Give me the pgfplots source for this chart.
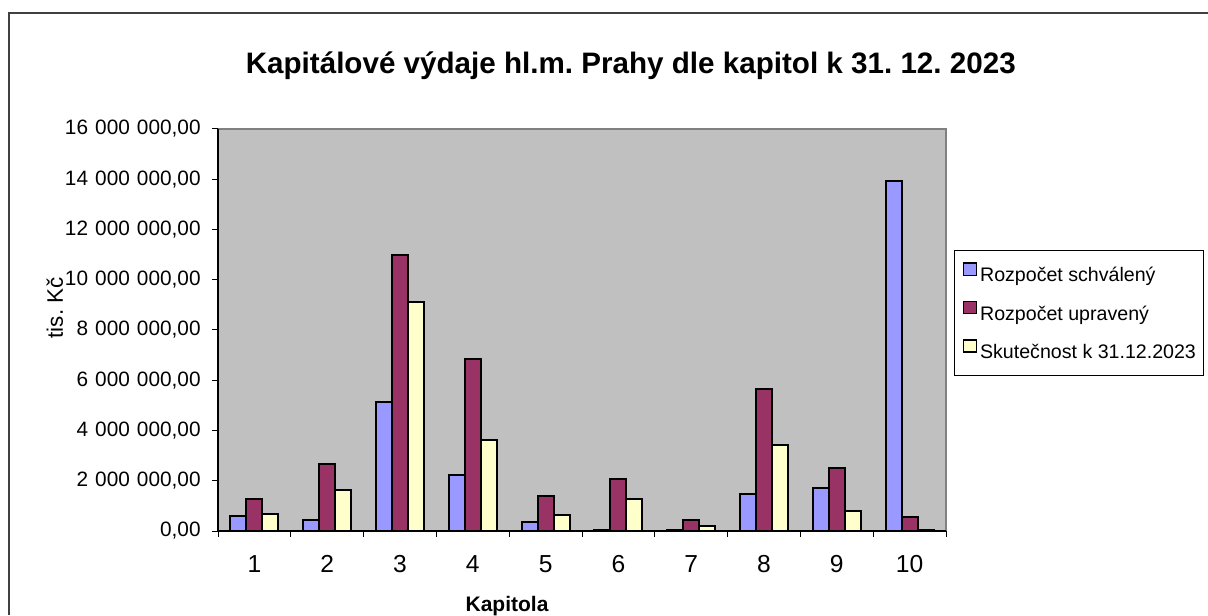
\documentclass[border=0pt]{standalone}
\usepackage{pgfplots}
\pgfplotsset{compat=1.18}
\usepackage{fontspec}
\setmainfont{Liberation Sans}
\frenchspacing
\definecolor{cblue}{HTML}{9999FF}
\definecolor{cmaroon}{HTML}{993366}
\definecolor{cyellow}{HTML}{FFFFCC}
\definecolor{plotgray}{HTML}{C0C0C0}
\definecolor{bordergray}{HTML}{808080}
\definecolor{framegray}{HTML}{404040}
\newcommand\fsp{\hspace{0.34em}}
\pgfplotsset{
  mybar/.style={fill=#1, draw=black, line width=1pt,
    legend image code/.code={\draw[fill=#1, draw=black, line width=0.8pt] (0pt,0.8pt) rectangle (6.5pt,6.8pt);}},
}
\begin{document}
\begin{tikzpicture}
\useasboundingbox (0,0) rectangle (604pt,307.5pt);
\fill[white] (0,0) rectangle (604pt,307.5pt);
\draw[framegray, line width=0.6pt] (4.5pt,0) -- (4.5pt,301pt) -- (604pt,301pt);
\begin{axis}[
  at={(109pt,42pt)}, anchor=south west,
  scale only axis, width=364pt, height=201pt,
  ybar=0pt, bar width=8pt,
  xmin=0.5, xmax=10.5, ymin=0, ymax=16000000,
  clip=false,
  axis background/.style={fill=plotgray, draw=bordergray, line width=1pt},
  axis line style={draw=none},
  after end axis/.code={\draw[black, line width=0.7pt] (rel axis cs:0,1) -- (rel axis cs:0,0) -- (rel axis cs:1,0);},
  tick align=outside, major tick length=3pt,
  tick style={black, line width=0.5pt},
  xtick pos=bottom, ytick pos=left,
  xtick={0.5,1.5,...,10.5}, xticklabels={},
  extra x ticks={1,2,...,10},
  extra x tick labels={1,2,3,4,5,6,7,8,9,10},
  extra x tick style={major tick length=0pt},
  xticklabel style={anchor=base, inner sep=0pt, yshift=-20.75pt, font=\fontsize{12.3}{14}\selectfont},
  ytick={0,2000000,4000000,6000000,8000000,10000000,12000000,14000000,16000000},
  yticklabels={{0,00},{2\fsp 000\fsp 000,00},{4\fsp 000\fsp 000,00},{6\fsp 000\fsp 000,00},{8\fsp 000\fsp 000,00},{10\fsp 000\fsp 000,00},{12\fsp 000\fsp 000,00},{14\fsp 000\fsp 000,00},{16\fsp 000\fsp 000,00}},
  yticklabel style={anchor=east, inner sep=0pt, xshift=-5.5pt, font=\fontsize{10.4}{12}\selectfont},
  scaled y ticks=false,
  title={Kapitálové výdaje hl.m. Prahy dle kapitol k 31. 12. 2023},
  title style={at={(axis description cs:0.567,1.109)}, anchor=base, inner sep=0pt, font=\fontsize{14.8}{17}\selectfont\bfseries},
  xlabel={Kapitola},
  xlabel style={at={(axis description cs:0.397,-0.199)}, anchor=base, inner sep=0pt, font=\fontsize{10.5}{12}\selectfont\bfseries},
  ylabel={tis. Kč},
  ylabel style={at={(axis description cs:-0.224,0.555)}, anchor=center, rotate=0, inner sep=0pt, font=\fontsize{11.2}{13}\selectfont},
  legend style={at={(1.011,0.699)}, anchor=north west, draw=black, line width=0.5pt, fill=white,
    font=\fontsize{9.8}{12}\selectfont, inner xsep=4pt, inner ysep=6pt, row sep=7pt,
    nodes={inner sep=0pt, text height=7.5pt, text depth=2.5pt},
    /tikz/every odd column/.append style={column sep=1.5pt}},
  legend cell align=left,
]
\addplot[mybar=cblue] coordinates {(1,580000) (2,420000) (3,5130000) (4,2240000) (5,360000) (6,50000) (7,40000) (8,1480000) (9,1720000) (10,13940000)};
\addlegendentry{Rozpočet schválený}
\addplot[mybar=cmaroon] coordinates {(1,1260000) (2,2650000) (3,10990000) (4,6850000) (5,1380000) (6,2080000) (7,420000) (8,5650000) (9,2520000) (10,560000)};
\addlegendentry{Rozpočet upravený}
\addplot[mybar=cyellow] coordinates {(1,660000) (2,1620000) (3,9110000) (4,3630000) (5,620000) (6,1260000) (7,210000) (8,3410000) (9,800000) (10,20000)};
\addlegendentry{Skutečnost k 31.12.2023}
\end{axis}
\end{tikzpicture}
\end{document}
